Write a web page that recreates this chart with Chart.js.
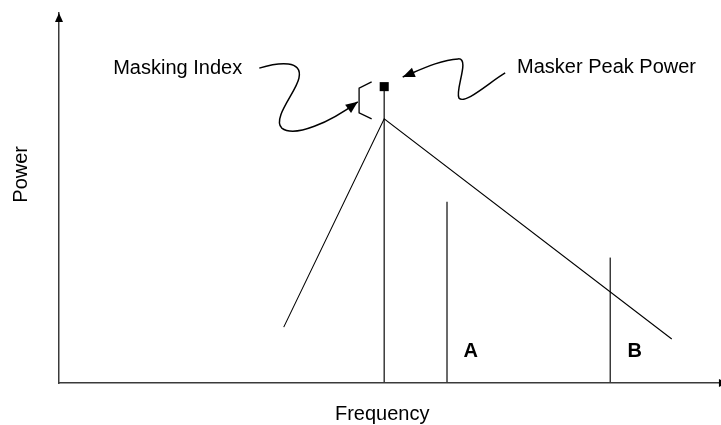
<!DOCTYPE html>
<html>
<head>
<meta charset="utf-8">
<script src="https://cdn.jsdelivr.net/npm/chart.js@4.4.1/dist/chart.umd.min.js"></script>
<style>
  html, body { margin: 0; padding: 0; background: #fff; }
  canvas { display: block; }
</style>
</head>
<body>
<canvas id="chart" width="721" height="425"></canvas>
<script>
// frequency and power in arbitrary units, 0..100 across the plot
const spreadFreq = [34.0, 49.2, 92.7];
const spreadPower = [15.1, 71.4, 11.9];

const maskerFreq = 49.2;
const maskerPeakPower = 80.1;

const probeNames = ["A", "B"];
const probeFreq = [58.7, 83.4];
const probePower = [49.0, 33.9];
const probeLabelFreq = [62.3, 87.1];
const probeLabelPower = [8.4, 8.4];

// bracket between masker peak and spreading peak
const indexBracket = [[47.3, 81.4], [45.4, 79.7], [45.4, 73.0], [47.3, 71.4]];
// bezier paths: start, then (c1, c2, end) triples
const indexCurve = [[30.3, 85.1], [33.4, 86.8], [36.9, 87.3], [36.3, 82.4], [35.9, 78.7], [32.2, 71.6], [33.7, 68.9], [35.7, 66.2], [41.0, 70.5], [45.2, 76.0]];
const peakCurve = [[67.5, 83.8], [65.2, 81.4], [61.4, 75.1], [60.5, 77.0], [59.9, 79.2], [62.2, 87.8], [60.4, 87.6], [57.6, 87.3], [54.6, 84.6], [52.0, 82.7]];

const noteText = ["Masking Index", "Masker Peak Power"];
const noteFreq = [8.2, 69.3];
const notePower = [83.5, 83.8];

const xTitle = "Frequency";
const xTitlePos = [48.9, -8.5];
const yTitle = "Power";
const yTitlePos = [-5.6, 56.4];

const FONT = '"Liberation Sans", Arial, Helvetica, sans-serif';
const STEM = "#3a3a3a";

const stem = (f, p) => [{ x: f, y: 0 }, { x: f, y: p }];

const datasets = [
  {
    data: spreadFreq.map((f, i) => ({ x: f, y: spreadPower[i] })),
    borderColor: "#000",
    borderWidth: 1.1,
    pointRadius: 0,
    showLine: true,
  },
  {
    data: stem(maskerFreq, maskerPeakPower),
    borderColor: STEM,
    borderWidth: 1.5,
    pointRadius: [0, 6.4],
    pointStyle: "rect",
    pointBackgroundColor: "#000",
    pointBorderWidth: 0,
    showLine: true,
  },
  ...probeFreq.map((f, i) => ({
    data: stem(f, probePower[i]),
    borderColor: STEM,
    borderWidth: 1.5,
    pointRadius: 0,
    showLine: true,
  })),
];

const arrowHead = (ctx, tip, from, len = 11, half = 4.5) => {
  const a = Math.atan2(tip[1] - from[1], tip[0] - from[0]);
  ctx.beginPath();
  ctx.moveTo(tip[0], tip[1]);
  ctx.lineTo(tip[0] - len * Math.cos(a) + half * Math.sin(a), tip[1] - len * Math.sin(a) - half * Math.cos(a));
  ctx.lineTo(tip[0] - len * Math.cos(a) - half * Math.sin(a), tip[1] - len * Math.sin(a) + half * Math.cos(a));
  ctx.closePath();
  ctx.fill();
};

const annotate = {
  id: "annotate",
  afterDraw(chart) {
    const { ctx, scales: { x, y } } = chart;
    const px = (p) => [x.getPixelForValue(p[0]), y.getPixelForValue(p[1])];
    ctx.save();
    ctx.fillStyle = "#000";
    ctx.strokeStyle = "#000";

    // axis arrows
    arrowHead(ctx, px([0, 100]), px([0, 90]), 9, 4);
    arrowHead(ctx, px([101.2, 0]), px([90, 0]), 9, 4);

    // bracket
    ctx.lineWidth = 1.3;
    ctx.beginPath();
    indexBracket.map(px).forEach((p, i) => (i ? ctx.lineTo(p[0], p[1]) : ctx.moveTo(p[0], p[1])));
    ctx.stroke();

    // wavy leader arrows
    [indexCurve, peakCurve].forEach((curve) => {
      const pts = curve.map(px);
      ctx.lineWidth = 1.5;
      ctx.beginPath();
      ctx.moveTo(pts[0][0], pts[0][1]);
      for (let i = 1; i + 2 < pts.length; i += 3) {
        ctx.bezierCurveTo(pts[i][0], pts[i][1], pts[i + 1][0], pts[i + 1][1], pts[i + 2][0], pts[i + 2][1]);
      }
      ctx.stroke();
      arrowHead(ctx, pts[pts.length - 1], pts[pts.length - 2], 12, 5);
    });

    // texts
    ctx.font = `20px ${FONT}`;
    ctx.textAlign = "left";
    ctx.textBaseline = "alphabetic";
    noteText.forEach((t, i) => {
      const p = px([noteFreq[i], notePower[i]]);
      ctx.fillText(t, p[0], p[1]);
    });

    ctx.textAlign = "center";
    ctx.textBaseline = "middle";
    const xt = px(xTitlePos);
    ctx.fillText(xTitle, xt[0], xt[1]);
    const yt = px(yTitlePos);
    ctx.save();
    ctx.translate(yt[0], yt[1]);
    ctx.rotate(-Math.PI / 2);
    ctx.fillText(yTitle, 0, 0);
    ctx.restore();

    ctx.font = `bold 20px ${FONT}`;
    probeNames.forEach((n, i) => {
      const p = px([probeLabelFreq[i], probeLabelPower[i]]);
      ctx.fillText(n, p[0], p[1]);
    });
    ctx.restore();
  },
};

new Chart(document.getElementById("chart"), {
  type: "scatter",
  data: { datasets },
  options: {
    responsive: false,
    animation: false,
    layout: { autoPadding: false, padding: { left: 59, top: 13, right: 1, bottom: 42 } },
    plugins: { legend: { display: false }, tooltip: { enabled: false } },
    scales: {
      x: {
        type: "linear",
        min: 0,
        max: 100,
        grid: { display: false, drawTicks: false },
        border: { display: true, color: STEM, width: 1.5 },
        ticks: { display: false },
      },
      y: {
        type: "linear",
        min: 0,
        max: 100,
        grid: { display: false, drawTicks: false },
        border: { display: true, color: STEM, width: 1.5 },
        ticks: { display: false },
      },
    },
  },
  plugins: [annotate],
});
</script>
</body>
</html>
